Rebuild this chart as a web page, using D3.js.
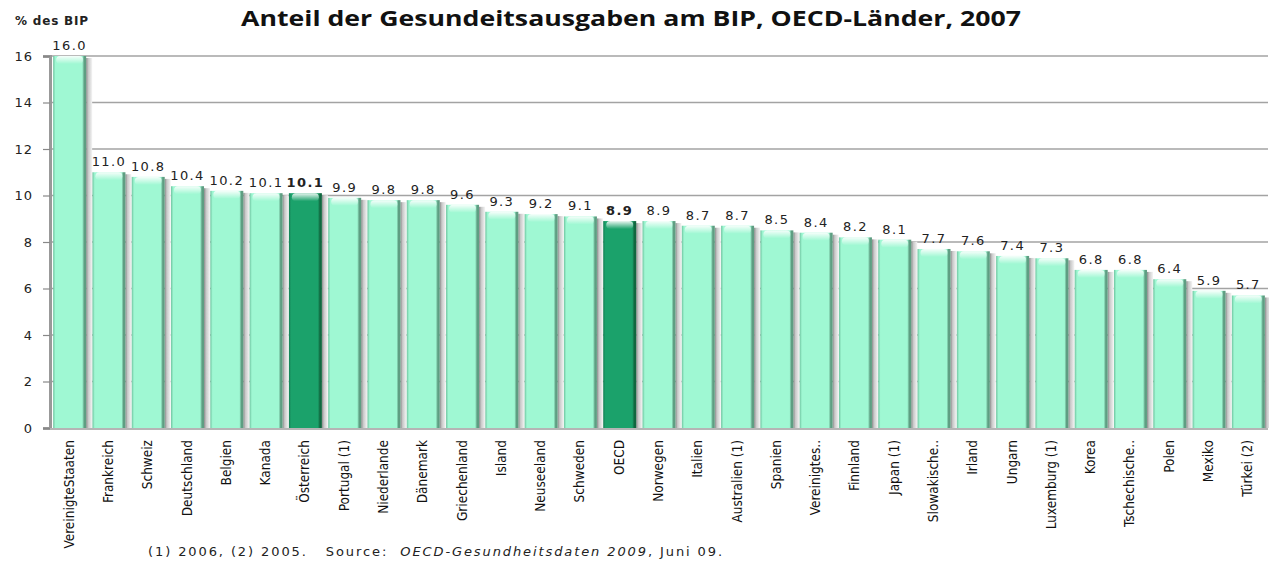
<!DOCTYPE html>
<meta charset="utf-8">
<script src="https://d3js.org/d3.v7.min.js"></script>
<style>
  body { margin: 0; background: #fff; }
</style>
<div id="chart"></div>
<script>

// data
var countries = ["VereinigteStaaten", "Frankreich", "Schweiz", "Deutschland", "Belgien", "Kanada",
  "Österreich", "Portugal (1)", "Niederlande", "Dänemark", "Griechenland", "Island", "Neuseeland",
  "Schweden", "OECD", "Norwegen", "Italien", "Australien (1)", "Spanien", "Vereinigtes..",
  "Finnland", "Japan (1)", "Slowakische..", "Irland", "Ungarn", "Luxemburg (1)", "Korea",
  "Tschechische..", "Polen", "Mexiko", "Türkei (2)"];
var values = [16.0, 11.0, 10.8, 10.4, 10.2, 10.1, 10.1, 9.9, 9.8, 9.8, 9.6, 9.3, 9.2, 9.1, 8.9, 8.9,
  8.7, 8.7, 8.5, 8.4, 8.2, 8.1, 7.7, 7.6, 7.4, 7.3, 6.8, 6.8, 6.4, 5.9, 5.7];
var highlighted = ["Österreich", "OECD"];
var yTicks = [0, 2, 4, 6, 8, 10, 12, 14, 16];

var width = 1269, height = 563;
// plot area (note: "top" is reserved on window, so use a margin object)
var plot = {left: 50, right: 1268, top: 56, bottom: 428};

var svg = d3.select("#chart").append("svg")
  .attr("width", width)
  .attr("height", height);

var data = countries.map(function(c, i) { return {name: c, value: values[i]}; });

var x = d3.scaleBand()
  .domain(countries)
  .range([plot.left, plot.right])
  .paddingInner(0.16)
  .paddingOuter(0.08);

var y = d3.scaleLinear()
  .domain([0, 16])
  .range([plot.bottom, plot.top]);

// gradients for the bars
var defs = svg.append("defs");
function barGradient(id, edgeL, mid, edgeR) {
  var g = defs.append("linearGradient").attr("id", id).attr("x1", 0).attr("x2", 1).attr("y1", 0).attr("y2", 0);
  g.append("stop").attr("offset", "0").attr("stop-color", edgeL);
  g.append("stop").attr("offset", "0.07").attr("stop-color", mid);
  g.append("stop").attr("offset", "0.88").attr("stop-color", mid);
  g.append("stop").attr("offset", "0.94").attr("stop-color", edgeR);
  g.append("stop").attr("offset", "1").attr("stop-color", edgeR);
}
barGradient("light", "#6fc4a0", "#9ff8d3", "#5e9e82");
barGradient("dark", "#167f55", "#1ba26b", "#10673f");

var shadow = defs.append("linearGradient").attr("id", "shadow").attr("x1", 0).attr("x2", 1);
shadow.append("stop").attr("offset", "0").attr("stop-color", "#8a8a8a");
shadow.append("stop").attr("offset", "0.35").attr("stop-color", "#c8c8c8");
shadow.append("stop").attr("offset", "1").attr("stop-color", "#f4f4f4");

var cap = defs.append("linearGradient").attr("id", "cap").attr("x1", 0).attr("x2", 0).attr("y1", 0).attr("y2", 1);
cap.append("stop").attr("offset", "0").attr("stop-color", "#ffffff").attr("stop-opacity", 0.9);
cap.append("stop").attr("offset", "1").attr("stop-color", "#ffffff").attr("stop-opacity", 0);

// horizontal grid lines
svg.append("g")
  .selectAll("line")
  .data(yTicks.filter(function(d) { return d > 0; }))
  .enter().append("line")
  .attr("x1", plot.left)
  .attr("x2", plot.right)
  .attr("y1", function(d) { return y(d); })
  .attr("y2", function(d) { return y(d); })
  .attr("stroke", "#a3a3a3")
  .attr("stroke-width", 1.5);

// bars with a grey shadow on their right side
var bars = svg.append("g").selectAll("g")
  .data(data)
  .enter().append("g");

bars.append("rect")
  .attr("x", function(d) { return x(d.name) + x.bandwidth(); })
  .attr("y", function(d) { return y(d.value) + 2; })
  .attr("width", 6)
  .attr("height", function(d) { return plot.bottom - y(d.value) - 2; })
  .attr("fill", "url(#shadow)");

bars.append("rect")
  .attr("x", function(d) { return x(d.name); })
  .attr("y", function(d) { return y(d.value); })
  .attr("width", x.bandwidth())
  .attr("height", function(d) { return plot.bottom - y(d.value); })
  .attr("fill", function(d) { return highlighted.indexOf(d.name) >= 0 ? "url(#dark)" : "url(#light)"; });

bars.append("rect")
  .attr("x", function(d) { return x(d.name) + 3; })
  .attr("y", function(d) { return y(d.value); })
  .attr("width", x.bandwidth() - 6)
  .attr("height", 8)
  .attr("rx", 4)
  .attr("fill", "url(#cap)");

// value labels
bars.append("text")
  .attr("x", function(d) { return x(d.name) + x.bandwidth() / 2; })
  .attr("y", function(d) { return y(d.value) - 6; })
  .attr("text-anchor", "middle")
  .attr("font-family", "DejaVu Sans, Verdana, sans-serif")
  .attr("font-size", 13)
  .attr("letter-spacing", 1.4)
  .attr("font-weight", function(d) { return highlighted.indexOf(d.name) >= 0 ? "bold" : "normal"; })
  .attr("fill", "#222")
  .text(function(d) { return d.value.toFixed(1); });

// y axis
var yAxis = svg.append("g")
  .attr("transform", "translate(" + plot.left + ",0)")
  .call(d3.axisLeft(y).tickValues(yTicks).tickSize(7).tickPadding(10).tickFormat(d3.format("d")));
yAxis.select(".domain").attr("stroke", "#999").attr("stroke-width", 3);
yAxis.selectAll(".tick line").attr("stroke", "#888").attr("stroke-width", 1.2);
yAxis.selectAll("text")
  .attr("font-family", "DejaVu Sans, Verdana, sans-serif")
  .attr("font-size", 13)
  .attr("letter-spacing", 1)
  .attr("fill", "#222");

// baseline
svg.append("line")
  .attr("x1", plot.left)
  .attr("x2", plot.right)
  .attr("y1", plot.bottom + 1)
  .attr("y2", plot.bottom + 1)
  .attr("stroke", "#b5b5b5")
  .attr("stroke-width", 2);

// x labels, rotated
svg.append("g").selectAll("text")
  .data(countries)
  .enter().append("text")
  .attr("transform", function(d) { return "translate(" + (x(d) + x.bandwidth() / 2 + 4) + ",440) rotate(-90)"; })
  .attr("text-anchor", "end")
  .attr("font-family", "Liberation Sans Narrow, DejaVu Sans Condensed, sans-serif")
  .attr("font-stretch", "condensed")
  .attr("font-size", 13.5)
  .attr("fill", "#111")
  .text(function(d) { return d; });

// titles
svg.append("text")
  .attr("x", 631)
  .attr("y", 26)
  .attr("text-anchor", "middle")
  .attr("font-family", "Open Sans, sans-serif")
  .attr("font-weight", "bold")
  .attr("font-size", 21)
  .attr("textLength", 780)
  .attr("lengthAdjust", "spacingAndGlyphs")
  .attr("fill", "#111")
  .text("Anteil der Gesundeitsausgaben am BIP, OECD-Länder, 2007");

svg.append("text")
  .attr("x", 15)
  .attr("y", 25)
  .attr("font-family", "DejaVu Sans, Verdana, sans-serif")
  .attr("font-weight", "bold")
  .attr("font-size", 12)
  .attr("letter-spacing", 0.8)
  .attr("fill", "#222")
  .text("% des BIP");

// source note
var note = svg.append("text")
  .attr("x", 148)
  .attr("y", 556)
  .attr("font-family", "DejaVu Sans, Verdana, sans-serif")
  .attr("font-size", 13)
  .attr("letter-spacing", 1.9)
  .attr("fill", "#222");
note.append("tspan").attr("xml:space", "preserve").text("(1) 2006, (2) 2005.   Source:  ");
note.append("tspan").attr("font-style", "italic").text("OECD-Gesundheitsdaten 2009");
note.append("tspan").text(", Juni 09.");

</script>
